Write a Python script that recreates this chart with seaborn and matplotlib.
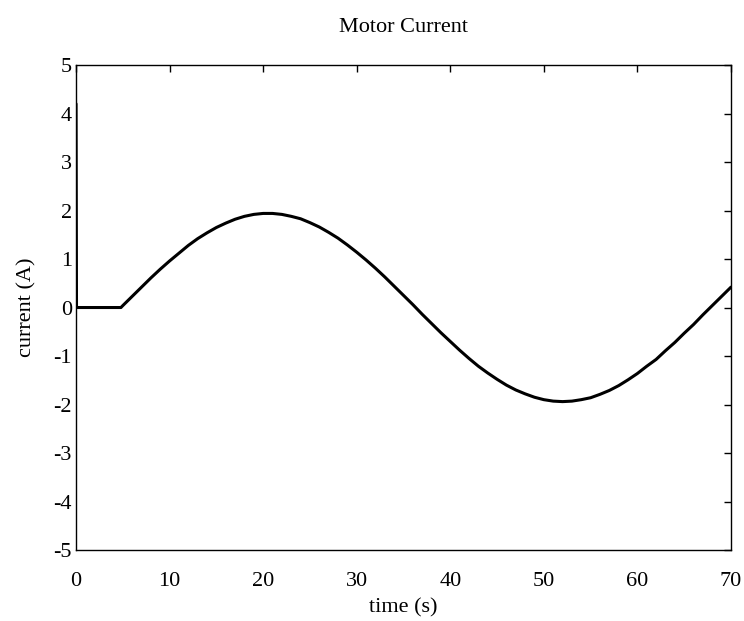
import matplotlib
matplotlib.use("Agg")
import matplotlib.pyplot as plt
import seaborn as sns
import pandas as pd

time_s = [0, 0.05, 4.8, 5, 6, 7, 8, 9, 10, 11, 12, 13, 14, 15, 16, 17, 18, 19, 20,
          21, 22, 23, 24, 25, 26, 27, 28, 29, 30, 31, 32, 33, 34, 35, 36, 37, 38,
          39, 40, 41, 42, 43, 44, 45, 46, 47, 48, 49, 50, 51, 52, 53, 54, 55, 56,
          57, 58, 59, 60, 61, 62, 63, 64, 65, 66, 67, 68, 69, 70]
current_a = [4.2, 0.0, 0.0, 0.04, 0.23, 0.42, 0.61, 0.79, 0.96, 1.12, 1.28, 1.42,
             1.54, 1.65, 1.74, 1.82, 1.88, 1.92, 1.94, 1.94, 1.92, 1.88, 1.83, 1.75,
             1.66, 1.55, 1.43, 1.29, 1.14, 0.98, 0.81, 0.63, 0.44, 0.25, 0.06, -0.14,
             -0.33, -0.52, -0.70, -0.88, -1.05, -1.21, -1.35, -1.48, -1.60, -1.70,
             -1.78, -1.85, -1.90, -1.93, -1.94, -1.93, -1.90, -1.86, -1.79, -1.71,
             -1.61, -1.49, -1.36, -1.21, -1.07, -0.89, -0.72, -0.53, -0.35, -0.15,
             0.04, 0.23, 0.42]
x_ticks = [0, 10, 20, 30, 40, 50, 60, 70]
y_ticks = [-5, -4, -3, -2, -1, 0, 1, 2, 3, 4, 5]

sns.set_theme(style="white")
plt.rcParams['font.family'] = ['Liberation Serif', 'DejaVu Serif']

df = pd.DataFrame({"time": time_s, "current": current_a})

fig = plt.figure(figsize=(7.44, 6.21), dpi=100)
ax = fig.add_axes([0.1022, 0.1143, 0.8803, 0.7810])
sns.lineplot(data=df, x="time", y="current", ax=ax, color="black", linewidth=2.2,
             sort=False, estimator=None)

ax.set_xlim(0, 70)
ax.set_ylim(-5, 5)
ax.set_xticks(x_ticks)
ax.set_yticks(y_ticks)
ax.set_xticklabels([str(v) for v in x_ticks])
ax.set_yticklabels([str(v) for v in y_ticks])
ax.tick_params(direction="in", length=5, width=1, top=True, right=True,
               labelsize=16, colors="black")
ax.tick_params(axis="x", pad=16)
ax.tick_params(axis="y", pad=3)
for s in ax.spines.values():
    s.set_visible(True)
    s.set_color("black")
    s.set_linewidth(1.0)
ax.set_xlabel("time (s)", fontsize=16, color="black", labelpad=5)
ax.set_ylabel("current (A)", fontsize=16, color="black", labelpad=12)
ax.set_title("Motor Current", fontsize=16, color="black", pad=24)

fig.savefig("out.png", dpi=100, facecolor="white")
